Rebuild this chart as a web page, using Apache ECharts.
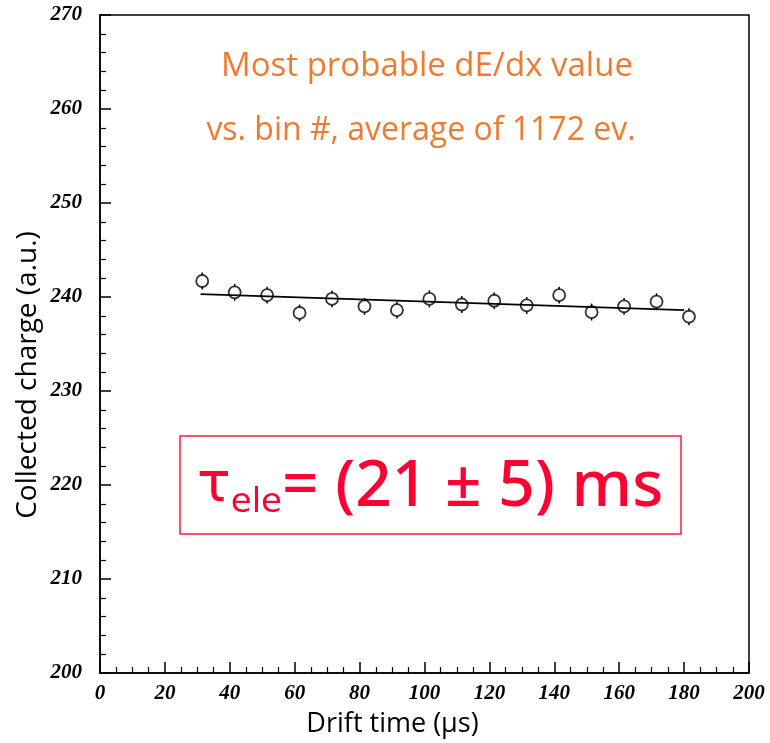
<!DOCTYPE html>
<html>
<head>
<meta charset="utf-8">
<title>Most probable dE/dx vs drift time</title>
<script src="https://cdn.jsdelivr.net/npm/echarts@6/dist/echarts.min.js"></script>
<style>
  html, body { margin: 0; padding: 0; background: #fff; }
  #chart { width: 770px; height: 743px; }
</style>
</head>
<body>
<div id="chart"></div>
<script>
// 数据：漂移时间 (µs) 与收集电荷 (a.u.)
const driftTime = [31.5, 41.5, 51.5, 61.5, 71.5, 81.5, 91.5, 101.5, 111.5, 121.5, 131.5, 141.5, 151.5, 161.5, 171.5, 181.5];
const charge = [241.7, 240.5, 240.2, 238.3, 239.8, 239.0, 238.6, 239.8, 239.2, 239.6, 239.1, 240.2, 238.4, 239.0, 239.5, 237.9];
const chargeErr = [0.9, 0.9, 0.9, 0.9, 0.9, 0.9, 0.9, 0.9, 0.9, 0.9, 0.9, 0.9, 0.9, 0.9, 0.9, 0.9];
// 拟合直线两端
const fitX = [31, 180];
const fitY = [240.3, 238.6];

const titleLines = ["Most probable dE/dx value", "vs. bin #, average of 1172 ev."];
const markerR = 6; // 空心圆半径 (px)

const chart = echarts.init(document.getElementById("chart"));

const tickFont = {
  color: "#000",
  fontFamily: "Liberation Serif",
  fontStyle: "italic",
  fontWeight: "bold",
  fontSize: 21
};
const red = "#ff0033";
const orange = "#f07a30";

chart.setOption({
  animation: false,
  grid: {
    left: 100,
    right: 21,
    top: 15,
    bottom: 65,
    show: true, // 画出上、右边框
    borderColor: "#000",
    borderWidth: 1.5
  },
  xAxis: {
    type: "value",
    min: 0,
    max: 200,
    interval: 20,
    name: "Drift time (µs)",
    nameLocation: "middle",
    nameGap: 38,
    nameTextStyle: { color: "#000", fontFamily: "Open Sans", fontSize: 27, padding: [0, 64, 0, 0] },
    axisLine: { lineStyle: { color: "#000", width: 1.5 } },
    axisTick: { inside: true, length: 11, lineStyle: { color: "#000", width: 1.5 } },
    minorTick: { show: true, splitNumber: 4, length: 6, lineStyle: { color: "#000", width: 1.2 } },
    splitLine: { show: false },
    axisLabel: Object.assign({ margin: 10 }, tickFont)
  },
  yAxis: {
    type: "value",
    min: 200,
    max: 270,
    interval: 10,
    axisLine: { show: true, lineStyle: { color: "#000", width: 1.5 } },
    axisTick: { show: true, inside: true, length: 11, lineStyle: { color: "#000", width: 1.5 } },
    minorTick: { show: true, splitNumber: 5, length: 6, lineStyle: { color: "#000", width: 1.2 } },
    splitLine: { show: false },
    axisLabel: Object.assign({ margin: 18 }, tickFont)
  },
  series: [
    {
      // 拟合直线
      name: "fit",
      type: "line",
      data: fitX.map((x, i) => [x, fitY[i]]),
      symbol: "none",
      lineStyle: { color: "#000", width: 1.8 },
      z: 2
    },
    {
      // 误差棒（只画圆外部分）
      name: "err",
      type: "custom",
      data: driftTime.map((x, i) => [x, charge[i], chargeErr[i]]),
      renderItem: function (params, api) {
        const x = api.value(0), y = api.value(1), e = api.value(2);
        const c = api.coord([x, y]);
        const hi = api.coord([x, y + e]);
        const lo = api.coord([x, y - e]);
        const style = { stroke: "#000", lineWidth: 1.5 };
        return {
          type: "group",
          children: [
            { type: "line", shape: { x1: c[0], y1: hi[1], x2: c[0], y2: c[1] - markerR }, style: style },
            { type: "line", shape: { x1: c[0], y1: c[1] + markerR, x2: c[0], y2: lo[1] }, style: style }
          ]
        };
      },
      z: 3
    },
    {
      // 数据点：空心圆
      name: "data",
      type: "scatter",
      data: driftTime.map((x, i) => [x, charge[i]]),
      symbol: "circle",
      symbolSize: markerR * 2,
      itemStyle: { color: "transparent", borderColor: "#000", borderWidth: 1.8 },
      z: 4
    }
  ],
  graphic: [
    {
      // y轴名称（竖排，略偏下）
      type: "text",
      x: 28,
      y: 375,
      rotation: Math.PI / 2,
      style: {
        text: "Collected charge (a.u.)",
        fill: "#000",
        fontFamily: "Open Sans",
        fontSize: 28,
        align: "center",
        verticalAlign: "middle"
      }
    },
    {
      type: "text",
      x: 427,
      y: 67,
      style: {
        text: titleLines[0],
        fill: orange,
        fontFamily: "Open Sans",
        fontSize: 33,
        align: "center",
        verticalAlign: "middle"
      }
    },
    {
      type: "text",
      x: 421,
      y: 131,
      style: {
        text: titleLines[1],
        fill: orange,
        fontFamily: "Open Sans",
        fontSize: 32,
        align: "center",
        verticalAlign: "middle"
      }
    },
    {
      // 红色方框
      type: "rect",
      shape: { x: 180, y: 436, width: 501, height: 98 },
      style: { fill: "none", stroke: "#ff1a40", lineWidth: 1.5 }
    },
    {
      type: "text",
      x: 197,
      y: 488,
      style: {
        text: "{tau|τ}{sub|ele}{main|= (21 ± 5) ms}",
        verticalAlign: "middle",
        rich: {
          tau: { fill: red, fontFamily: "DejaVu Sans", fontSize: 56, padding: [0, 0, 4, 0] },
          sub: { fill: red, fontFamily: "DejaVu Sans", fontSize: 34, padding: [30, 0, 0, 0] },
          main: { fill: red, fontFamily: "Noto Sans", fontSize: 64, fontWeight: 500 }
        }
      }
    }
  ]
});
</script>
</body>
</html>
